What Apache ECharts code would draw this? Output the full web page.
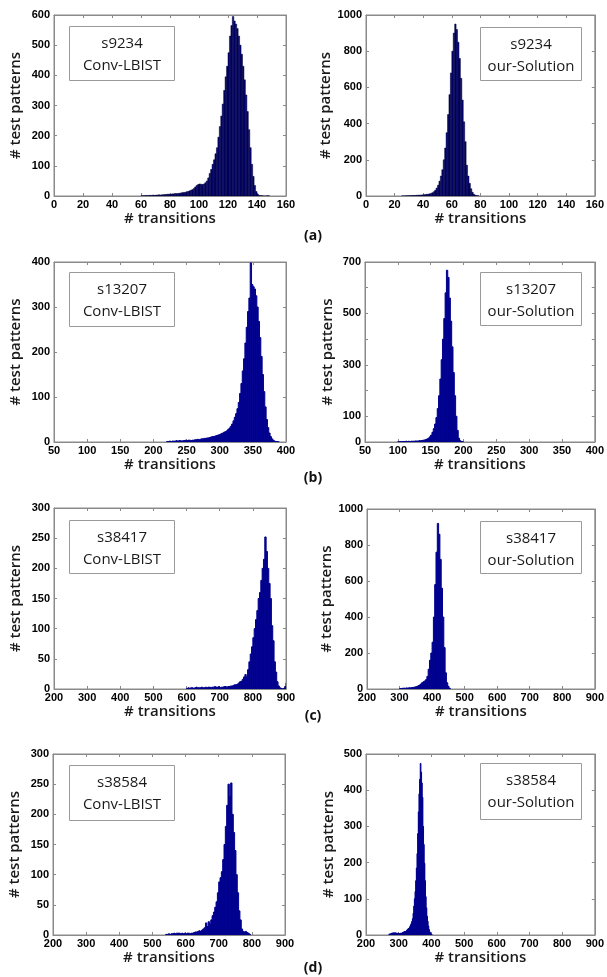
<!DOCTYPE html>
<html>
<head>
<meta charset="utf-8">
<script src="https://cdn.jsdelivr.net/npm/echarts@6/dist/echarts.min.js"></script>
<style>
html,body{margin:0;padding:0;background:#fff;}
#chart{width:607px;height:977px;}
</style>
</head>
<body>
<div id="chart"></div>
<script>
// ---------------- DATA ----------------
// Histogram bins: each panel has a start value, a bin width and counts per bin.
const aConvStart = 60, aConvWidth = 1;
const aConvCounts = [
  1,1,1,2,1,2,2,2,3,2,
  3,3,4,3,4,4,5,5,6,6,
  6,7,7,8,8,8,9,10,11,12,
  12,14,15,17,19,21,25,30,35,38,
  40,39,38,40,44,50,60,75,88,105,
  120,140,160,195,230,265,305,350,395,430,
  475,530,565,595,580,570,555,530,500,470,
  430,385,335,280,220,160,105,65,35,15,
  6,2,1,1,0,0,0,1,0
];
const aOurStart = 25, aOurWidth = 1;
const aOurCounts = [
  1,0,1,1,1,
  2,2,3,3,3,4,4,5,5,6,
  7,8,9,10,12,14,18,24,32,44,
  60,82,110,145,200,265,350,450,560,680,
  800,900,950,920,850,760,650,530,410,300,
  170,110,70,40,20,9,4,2,1
];
const bConvStart = 220, bConvWidth = 2;
const bConvCounts = [
  1,1,2,1,2,2,2,3,2,3,
  3,2,3,3,4,3,4,4,3,4,
  4,5,5,6,5,6,7,7,8,8,
  9,9,10,11,12,12,13,14,15,16,
  17,19,20,22,23,25,28,31,35,40,
  47,55,63,74,88,108,130,158,185,220,
  255,290,320,398,350,345,340,325,300,268,
  232,190,150,112,78,50,32,20,12,7,
  4,2,1,1,0
];
const bOurStart = 100, bOurWidth = 2;
const bOurCounts = [
  1,1,2,1,2,2,3,2,3,2,
  3,3,3,4,4,4,5,5,6,7,
  8,10,12,15,20,27,38,52,70,95,
  130,180,245,320,400,480,580,668,640,560,
  470,370,270,180,100,45,15,5,2,1
];
const cConvStart = 600, cConvWidth = 4;
const cConvCounts = [
  1,2,1,2,2,1,2,3,2,2,
  2,3,2,2,3,2,3,3,2,3,
  3,4,3,3,4,2,3,3,4,4,
  3,4,4,5,5,6,7,7,8,10,
  12,13,16,20,24,20,32,45,58,70,
  85,100,115,130,150,160,180,200,215,252,
  228,200,175,150,105,80,45,28,12,5,
  2,1,0,1,4,10
];
const cOurStart = 300, cOurWidth = 4;
const cOurCounts = [
  2,3,4,5,4,6,5,7,6,8,
  9,10,12,14,18,22,28,35,40,45,
  52,70,110,160,200,260,400,580,760,920,
  860,720,560,400,230,90,35,15,4
];
const dConvStart = 540, dConvWidth = 4;
const dConvCounts = [
  1,1,2,1,2,2,3,2,3,3,
  3,2,3,2,3,2,3,3,2,3,
  3,4,5,5,6,7,6,8,10,12,
  20,14,22,18,25,32,38,46,55,70,
  88,95,105,125,150,180,215,250,230,252,
  200,170,140,100,70,40,25,10,6,5,
  6,4,3,1
];
const dOurStart = 270, dOurWidth = 2;
const dOurCounts = [
  2,3,3,4,5,5,6,5,6,5,
  6,5,5,4,5,4,4,5,4,5,
  6,7,8,9,10,9,11,13,15,17,
  18,20,24,28,32,38,45,60,80,100,
  120,150,185,225,280,340,390,430,474,450,
  420,380,300,250,198,150,106,75,52,38,
  25,15,9,6,3,2
];

// axis ranges / tick labels
const xTicksA = [0, 160, 20];
const xTicksB = [50, 400, 50];
const xTicksCD = [200, 900, 100];
const yTicksAConv = [0, 600, 100];
const yTicksAOur = [0, 1000, 200];
const yTicksBConv = [0, 400, 100];
const yTicksBOur = [0, 700, 100];
const yLabelsBOur = [0, 100, 300, 500, 700];
const yTicksCConv = [0, 300, 50];
const yTicksCOur = [0, 1000, 200];
const yTicksDConv = [0, 300, 50];
const yTicksDOur = [0, 500, 100];

const circuitNames = ['s9234', 's13207', 's38417', 's38584'];
const methodNames = ['Conv-LBIST', 'our-Solution'];
const panelLetters = ['(a)', '(b)', '(c)', '(d)'];
const xTitle = '# transitions';
const yTitle = '# test patterns';

// ---------------- LAYOUT ----------------
const grids = [
  {left: 54, top: 15, width: 232, height: 181},
  {left: 366, top: 15, width: 231, height: 181},
  {left: 54, top: 262, width: 232, height: 180},
  {left: 365, top: 262, width: 232, height: 180},
  {left: 54, top: 508, width: 232, height: 181},
  {left: 367, top: 509, width: 230, height: 180},
  {left: 53, top: 754, width: 232, height: 181},
  {left: 366, top: 754, width: 232, height: 181}
];
const boxes = [
  [69, 26, 105, 54], [480, 27, 101, 53],
  [69, 272, 105, 54], [480, 272, 101, 53],
  [69, 520, 105, 53], [480, 521, 101, 52],
  [69, 765, 105, 55], [480, 763, 101, 56]
];
const letterPos = [[313, 236], [313, 478], [313, 716], [313, 968]];

const panelDefs = [
  [aConvStart, aConvWidth, aConvCounts, xTicksA, yTicksAConv, null, true],
  [aOurStart, aOurWidth, aOurCounts, xTicksA, yTicksAOur, null, true],
  [bConvStart, bConvWidth, bConvCounts, xTicksB, yTicksBConv, null, false],
  [bOurStart, bOurWidth, bOurCounts, xTicksB, yTicksBOur, yLabelsBOur, false],
  [cConvStart, cConvWidth, cConvCounts, xTicksCD, yTicksCConv, null, false],
  [cOurStart, cOurWidth, cOurCounts, xTicksCD, yTicksCOur, null, false],
  [dConvStart, dConvWidth, dConvCounts, xTicksCD, yTicksDConv, null, false],
  [dOurStart, dOurWidth, dOurCounts, xTicksCD, yTicksDOur, null, false]
];

const frameColor = '#8a8a8a';
const labelFont = {color: '#000', fontFamily: 'Liberation Sans', fontWeight: 'bold', fontSize: 11};
const titleFont = {color: '#1a1a1a', fontFamily: 'Open Sans', fontWeight: 600, fontSize: 15};

const option = {
  animation: false,
  backgroundColor: '#fff',
  grid: [], xAxis: [], yAxis: [], series: [], graphic: []
};

panelDefs.forEach((p, i) => {
  const [start, width, counts, xt, yt, ylabs, edged] = p;
  option.grid.push(Object.assign({show: true, borderColor: frameColor, borderWidth: 1, backgroundColor: '#fff'}, grids[i]));
  const isLeft = i % 2 === 0;
  option.xAxis.push({
    type: 'value', gridIndex: i, position: 'bottom', min: xt[0], max: xt[1], interval: xt[2],
    splitLine: {show: false},
    axisLine: {show: true, onZero: false, lineStyle: {color: frameColor}},
    axisTick: {show: true, inside: true, length: 3, lineStyle: {color: frameColor}},
    axisLabel: Object.assign({margin: 3, showMinLabel: true, showMaxLabel: true}, labelFont),
    name: xTitle, nameLocation: 'middle', nameGap: 14, nameTextStyle: titleFont
  });
  option.xAxis.push({
    type: 'value', gridIndex: i, position: 'top', min: xt[0], max: xt[1], interval: xt[2],
    splitLine: {show: false},
    axisLine: {show: true, onZero: false, lineStyle: {color: frameColor}},
    axisTick: {show: true, inside: true, length: 3, lineStyle: {color: frameColor}},
    axisLabel: {show: false}
  });
  option.yAxis.push({
    type: 'value', gridIndex: i, position: 'left', min: yt[0], max: yt[1], interval: yt[2],
    splitLine: {show: false},
    axisLine: {show: true, onZero: false, lineStyle: {color: frameColor}},
    axisTick: {show: true, inside: true, length: 3, lineStyle: {color: frameColor}},
    axisLabel: Object.assign({
      margin: 4, showMinLabel: true, showMaxLabel: true,
      formatter: ylabs ? (v => (ylabs.indexOf(v) >= 0 ? String(v) : '')) : (v => String(v))
    }, labelFont),
    name: yTitle, nameLocation: 'middle', nameGap: isLeft ? 31 : 30, nameRotate: 90, nameTextStyle: titleFont
  });
  option.yAxis.push({
    type: 'value', gridIndex: i, position: 'right', min: yt[0], max: yt[1], interval: yt[2],
    splitLine: {show: false},
    axisLine: {show: true, onZero: false, lineStyle: {color: frameColor}},
    axisTick: {show: true, inside: true, length: 3, lineStyle: {color: frameColor}},
    axisLabel: {show: false}
  });
  const data = counts.map((c, k) => [start + k * width, start + (k + 1) * width, c]);
  option.series.push({
    type: 'custom',
    xAxisIndex: i * 2, yAxisIndex: i * 2,
    clip: true,
    data: data,
    encode: {x: [0, 1], y: 2},
    renderItem: function (params, api) {
      const p0 = api.coord([api.value(0), api.value(2)]);
      const p1 = api.coord([api.value(1), 0]);
      return {
        type: 'rect',
        shape: {x: p0[0], y: p0[1], width: p1[0] - p0[0], height: p1[1] - p0[1]},
        style: edged ? {fill: '#00007a', stroke: '#000035', lineWidth: 0.5}
                     : {fill: '#00008f', stroke: '#00008f', lineWidth: 1}
      };
    }
  });
  const b = boxes[i];
  option.graphic.push({
    type: 'group', left: b[0], top: b[1],
    children: [
      {type: 'rect', shape: {x: 0, y: 0, width: b[2], height: b[3]},
       style: {fill: '#fff', stroke: '#9a9a9a', lineWidth: 1}},
      {type: 'text', x: b[2] / 2, y: 17,
       style: {text: circuitNames[Math.floor(i / 2)], fill: '#1a1a1a', font: '15px "Open Sans"', align: 'center', verticalAlign: 'middle'}},
      {type: 'text', x: b[2] / 2, y: 39,
       style: {text: methodNames[i % 2], fill: '#1a1a1a', font: '15px "Open Sans"', align: 'center', verticalAlign: 'middle'}}
    ]
  });
});

panelLetters.forEach((t, r) => {
  option.graphic.push({
    type: 'text', x: letterPos[r][0], y: letterPos[r][1],
    style: {text: t, fill: '#111', font: 'bold 14px "Open Sans"', align: 'center', verticalAlign: 'middle'}
  });
});

const chart = echarts.init(document.getElementById('chart'), null, {renderer: 'canvas'});
chart.setOption(option);
</script>
</body>
</html>
